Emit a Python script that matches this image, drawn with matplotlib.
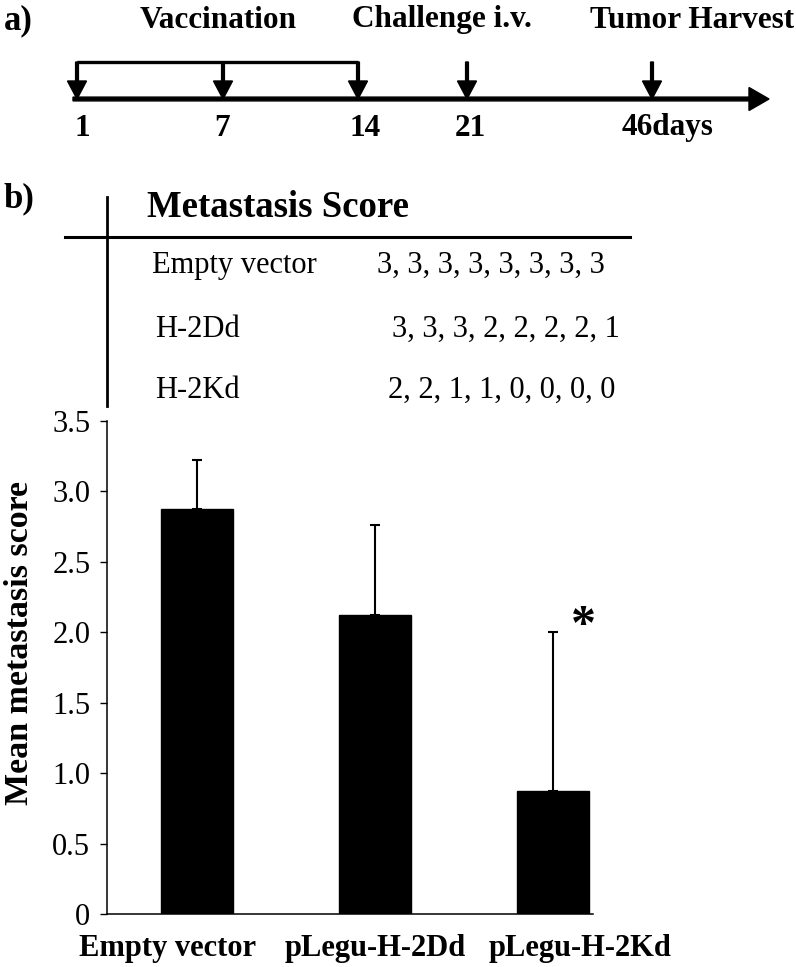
import matplotlib

matplotlib.use("Agg")
import matplotlib.pyplot as plt

# bar chart data
groups = ["Empty vector", "pLegu-H-2Dd", "pLegu-H-2Kd"]
mean_scores = [2.875, 2.125, 0.875]
upper_err = [0.35, 0.64, 1.125]
y_ticks = [0, 0.5, 1.0, 1.5, 2.0, 2.5, 3.0, 3.5]
y_tick_labels = ["0", "0.5", "1.0", "1.5", "2.0", "2.5", "3.0", "3.5"]

# timeline (panel a)
timeline_days = ["1", "7", "14", "21", "46days"]
events = ["Vaccination", "Challenge i.v.", "Tumor Harvest"]

# metastasis score table
table_rows = ["Empty vector", "H-2Dd", "H-2Kd"]
empty_scores = [3, 3, 3, 3, 3, 3, 3, 3]
dd_scores = [3, 3, 3, 2, 2, 2, 2, 1]
kd_scores = [2, 2, 1, 1, 0, 0, 0, 0]

W, H = 796, 967
plt.rcParams["font.family"] = ["Liberation Serif", "DejaVu Serif"]

fig = plt.figure(figsize=(W / 100, H / 100), dpi=100)

# overlay in pixel units for the schematic parts
ov = fig.add_axes([0, 0, 1, 1])
ov.set_xlim(0, W)
ov.set_ylim(H, 0)
ov.axis("off")
ov.patch.set_alpha(0)

# --- panel a ---
ov.text(4, 21, "a)", fontsize=25, fontweight="bold", va="center", ha="left")
arrow_x = [77, 223, 358, 467, 652]
label_x = [82, 222, 365, 470, 668]
event_x = [218, 442, 692]
line_y, top_y = 99, 62

ov.arrow(73, line_y, 696, 0, width=3.8, head_width=23, head_length=20,
         length_includes_head=True, color="black")
ov.plot([arrow_x[0], arrow_x[2]], [top_y, top_y], color="black", lw=2.4,
        solid_capstyle="butt")
for x in arrow_x:
    ov.arrow(x, top_y, 0, line_y - top_y, width=2.8, head_width=19, head_length=18,
             length_includes_head=True, color="black")
for x, lab in zip(label_x, timeline_days):
    ov.text(x, 128, lab, fontsize=22.5, fontweight="bold", ha="center", va="center")
for x, lab in zip(event_x, events):
    ov.text(x, 20, lab, fontsize=22.5, fontweight="bold", ha="center", va="center")

# --- panel b table ---
ov.text(4, 199, "b)", fontsize=25, fontweight="bold", va="center", ha="left")
ov.plot([107, 107], [197, 406], color="black", lw=2)
ov.plot([65, 630], [237, 237], color="black", lw=2.2)
ov.text(147, 217, "Metastasis Score", fontsize=26.5, fontweight="bold", va="baseline")
row_y = [273, 337, 398]
row_lx = [152, 155, 155]
row_vx = [377, 392, 388]
for lab, scores, y, lx, vx in zip(table_rows, [empty_scores, dd_scores, kd_scores],
                                  row_y, row_lx, row_vx):
    ov.text(lx, y, lab, fontsize=22, va="baseline")
    ov.text(vx, y, ", ".join(str(s) for s in scores), fontsize=22, va="baseline")

# --- bar chart ---
ax = fig.add_axes([107 / W, (H - 914) / H, 486 / W, 493 / H])
ax.patch.set_alpha(0)
pos = list(range(len(groups)))
ax.bar(pos, mean_scores, width=0.405, color="black", edgecolor="black")
ax.errorbar(pos, mean_scores, yerr=[[0] * 3, upper_err], fmt="none", ecolor="black",
            elinewidth=1.5, capsize=3.5, capthick=1.5)
ax.set_xlim(-0.506, 2.225)
ax.set_ylim(0, 3.5)
ax.set_yticks(y_ticks)
ax.set_yticklabels(y_tick_labels, fontsize=22)
ax.tick_params(axis="y", direction="out", length=5, width=1, pad=7)
ax.set_xticks([])
for side in ["top", "right"]:
    ax.spines[side].set_visible(False)
ax.spines["left"].set_linewidth(1.1)
ax.spines["bottom"].set_linewidth(1.1)

label_shift = [-0.163, 0, 0.152]
for p, lab, dx in zip(pos, groups, label_shift):
    ax.annotate(lab, xy=(p + dx, 0), xycoords=("data", "axes fraction"),
                xytext=(0, -42 * 0.72), textcoords="offset points",
                ha="center", va="baseline", fontsize=22, fontweight="bold")

ax.annotate("*", xy=(2, mean_scores[2] + upper_err[2]), xytext=(22, 4),
            textcoords="offset points", ha="center", va="center",
            fontsize=36, fontweight="bold")

fig.text(20 / W, 1 - 643 / H, "Mean metastasis score", rotation=90, fontsize=24.5,
         fontweight="bold", ha="center", va="center")

fig.savefig("out.png", dpi=100)
